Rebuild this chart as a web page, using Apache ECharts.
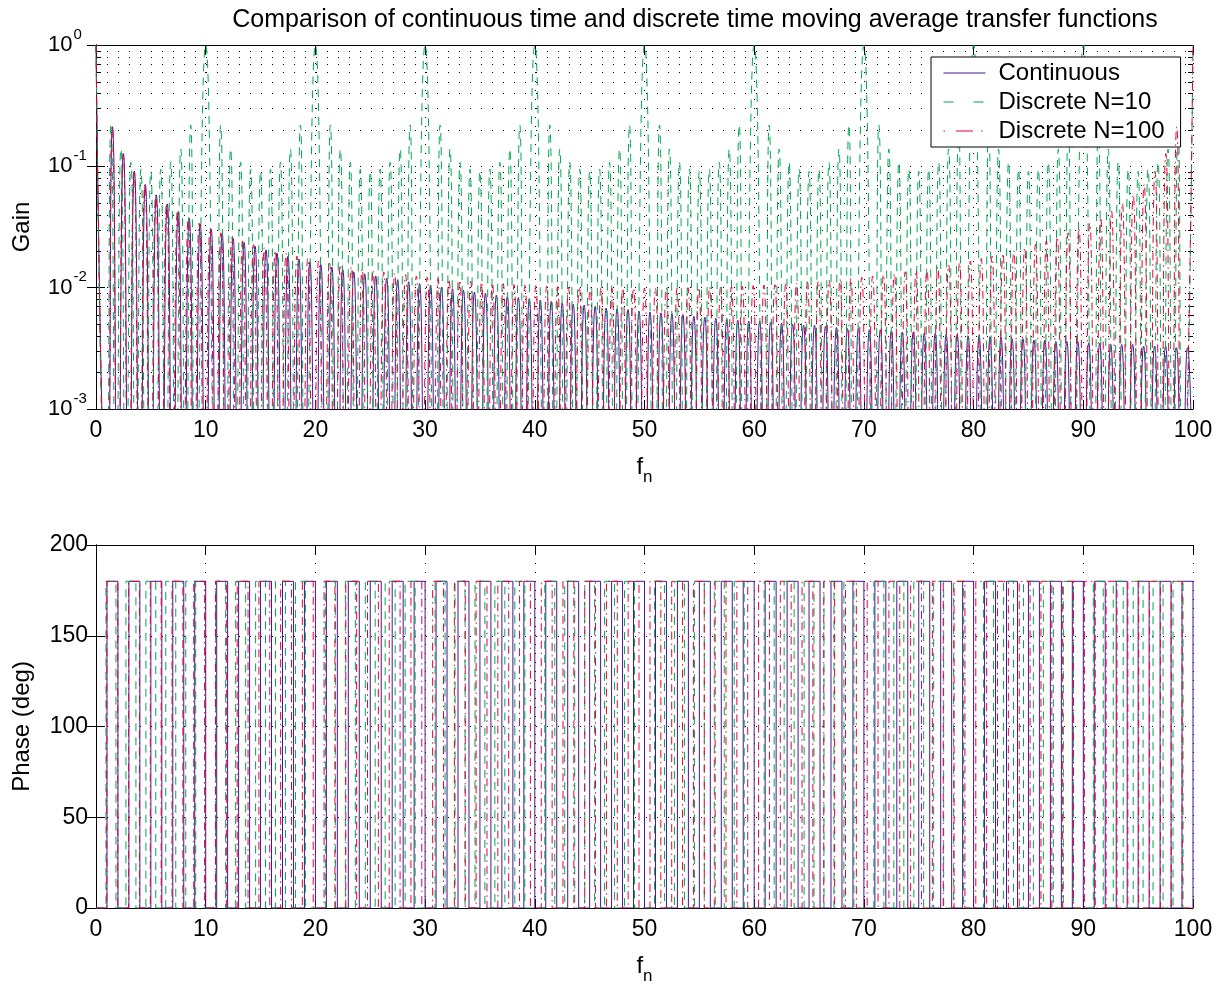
<!DOCTYPE html>
<html>
<head>
<meta charset="utf-8">
<title>Moving average transfer functions</title>
<script src="https://cdn.jsdelivr.net/npm/echarts@6/dist/echarts.min.js"></script>
<style>
  html, body { margin: 0; padding: 0; background: #fff; }
  #chart { width: 1229px; height: 986px; }
</style>
</head>
<body>
<div id="chart"></div>
<script>
'use strict';

// ---- data ----
const X_TICKS = [0, 10, 20, 30, 40, 50, 60, 70, 80, 90, 100];
const GAIN_TICKS = [0.001, 0.01, 0.1, 1];
const GAIN_MINOR = [0.002, 0.003, 0.004, 0.005, 0.006, 0.007, 0.008, 0.009,
    0.02, 0.03, 0.04, 0.05, 0.06, 0.07, 0.08, 0.09,
    0.2, 0.3, 0.4, 0.5, 0.6, 0.7, 0.8, 0.9];
const PHASE_TICKS = [0, 50, 100, 150, 200];
const PHASE_LEVELS = [0, 180];
const SERIES_NAMES = ['Continuous', 'Discrete N=10', 'Discrete N=100'];

// gain drops to zero here (drawn below the 10^-3 floor)
const ZERO_GAIN = 1e-4;

// Continuous: frequencies where the gain hits zero, and the top of each lobe
const CONT_ZEROS = [1, 2, 3, 4, 5, 6, 7, 8, 9, 10, 11, 12, 13, 14, 15, 16, 17, 18, 19, 20,
    21, 22, 23, 24, 25, 26, 27, 28, 29, 30, 31, 32, 33, 34, 35, 36, 37, 38, 39, 40,
    41, 42, 43, 44, 45, 46, 47, 48, 49, 50, 51, 52, 53, 54, 55, 56, 57, 58, 59, 60,
    61, 62, 63, 64, 65, 66, 67, 68, 69, 70, 71, 72, 73, 74, 75, 76, 77, 78, 79, 80,
    81, 82, 83, 84, 85, 86, 87, 88, 89, 90, 91, 92, 93, 94, 95, 96, 97, 98, 99, 100];
const CONT_PEAKS = [1, 0.212, 0.127, 0.0909, 0.0707, 0.0579, 0.0490, 0.0424, 0.0374, 0.0335,
    0.0303, 0.0277, 0.0255, 0.0236, 0.0220, 0.0205, 0.0193, 0.0182, 0.0172, 0.0163,
    0.0155, 0.0148, 0.0141, 0.0135, 0.0130, 0.0125, 0.0120, 0.0116, 0.0112, 0.0108,
    0.0105, 0.0101, 0.0098, 0.0095, 0.0092, 0.0090, 0.0087, 0.0085, 0.0083, 0.0081,
    0.0079, 0.0077, 0.0075, 0.0073, 0.0072, 0.0070, 0.0068, 0.0067, 0.0066, 0.0064,
    0.0063, 0.0062, 0.0061, 0.0060, 0.0058, 0.0057, 0.0056, 0.0055, 0.0054, 0.0053,
    0.0053, 0.0052, 0.0051, 0.0050, 0.0049, 0.0049, 0.0048, 0.0047, 0.0046, 0.0046,
    0.0045, 0.0045, 0.0044, 0.0043, 0.0043, 0.0042, 0.0042, 0.0041, 0.0041, 0.0040,
    0.0040, 0.0039, 0.0039, 0.0038, 0.0038, 0.0037, 0.0037, 0.0036, 0.0036, 0.0036,
    0.0035, 0.0035, 0.0034, 0.0034, 0.0034, 0.0033, 0.0033, 0.0033, 0.0032, 0.0032];

// Discrete N=10
const N10_ZEROS = [0.91, 1.82, 2.73, 3.64, 4.55, 5.45, 6.36, 7.27, 8.18, 9.09,
    10.91, 11.82, 12.73, 13.64, 14.55, 15.45, 16.36, 17.27, 18.18, 19.09,
    20.91, 21.82, 22.73, 23.64, 24.55, 25.45, 26.36, 27.27, 28.18, 29.09,
    30.91, 31.82, 32.73, 33.64, 34.55, 35.45, 36.36, 37.27, 38.18, 39.09,
    40.91, 41.82, 42.73, 43.64, 44.55, 45.45, 46.36, 47.27, 48.18, 49.09,
    50.91, 51.82, 52.73, 53.64, 54.55, 55.45, 56.36, 57.27, 58.18, 59.09,
    60.91, 61.82, 62.73, 63.64, 64.55, 65.45, 66.36, 67.27, 68.18, 69.09,
    70.91, 71.82, 72.73, 73.64, 74.55, 75.45, 76.36, 77.27, 78.18, 79.09,
    80.91, 81.82, 82.73, 83.64, 84.55, 85.45, 86.36, 87.27, 88.18, 89.09,
    90.91, 91.82, 92.73, 93.64, 94.55, 95.45, 96.36, 97.27, 98.18, 99.09];
const N10_PEAKS = [1,
    0.219, 0.139, 0.108, 0.0947, 0.0909, 0.0947, 0.108, 0.139, 0.219, 1,
    0.219, 0.139, 0.108, 0.0947, 0.0909, 0.0947, 0.108, 0.139, 0.219, 1,
    0.219, 0.139, 0.108, 0.0947, 0.0909, 0.0947, 0.108, 0.139, 0.219, 1,
    0.219, 0.139, 0.108, 0.0947, 0.0909, 0.0947, 0.108, 0.139, 0.219, 1,
    0.219, 0.139, 0.108, 0.0947, 0.0909, 0.0947, 0.108, 0.139, 0.219, 1,
    0.219, 0.139, 0.108, 0.0947, 0.0909, 0.0947, 0.108, 0.139, 0.219, 1,
    0.219, 0.139, 0.108, 0.0947, 0.0909, 0.0947, 0.108, 0.139, 0.219, 1,
    0.219, 0.139, 0.108, 0.0947, 0.0909, 0.0947, 0.108, 0.139, 0.219, 1,
    0.219, 0.139, 0.108, 0.0947, 0.0909, 0.0947, 0.108, 0.139, 0.219, 1,
    0.219, 0.139, 0.108, 0.0947, 0.0909, 0.0947, 0.108, 0.139, 0.219, 1];

// Discrete N=100
const N100_ZEROS = [0.99, 1.98, 2.97, 3.96, 4.95, 5.94, 6.93, 7.92, 8.91, 9.90,
    10.89, 11.88, 12.87, 13.86, 14.85, 15.84, 16.83, 17.82, 18.81, 19.80,
    20.79, 21.78, 22.77, 23.76, 24.75, 25.74, 26.73, 27.72, 28.71, 29.70,
    30.69, 31.68, 32.67, 33.66, 34.65, 35.64, 36.63, 37.62, 38.61, 39.60,
    40.59, 41.58, 42.57, 43.56, 44.55, 45.54, 46.53, 47.52, 48.51, 49.50,
    50.50, 51.49, 52.48, 53.47, 54.46, 55.45, 56.44, 57.43, 58.42, 59.41,
    60.40, 61.39, 62.38, 63.37, 64.36, 65.35, 66.34, 67.33, 68.32, 69.31,
    70.30, 71.29, 72.28, 73.27, 74.26, 75.25, 76.24, 77.23, 78.22, 79.21,
    80.20, 81.19, 82.18, 83.17, 84.16, 85.15, 86.14, 87.13, 88.12, 89.11,
    90.10, 91.09, 92.08, 93.07, 94.06, 95.05, 96.04, 97.03, 98.02, 99.01];
const N100_PEAKS = [1, 0.212, 0.1275, 0.0911, 0.0710, 0.0582, 0.0493, 0.0428, 0.0379, 0.0340,
    0.0309, 0.0283, 0.0261, 0.0243, 0.0227, 0.0213, 0.0202, 0.0191, 0.0182, 0.0174,
    0.0166, 0.0160, 0.0154, 0.0148, 0.0143, 0.0139, 0.0135, 0.0131, 0.0128, 0.0125,
    0.0122, 0.0119, 0.0117, 0.0115, 0.0113, 0.0111, 0.0109, 0.0108, 0.0106, 0.0105,
    0.0104, 0.0103, 0.0102, 0.0101, 0.0101, 0.0100, 0.0100, 0.0099, 0.0099, 0.0099,
    0.0099, 0.0099, 0.0099, 0.0099, 0.0100, 0.0100, 0.0101, 0.0101, 0.0102, 0.0103,
    0.0104, 0.0105, 0.0106, 0.0108, 0.0109, 0.0111, 0.0113, 0.0115, 0.0117, 0.0119,
    0.0122, 0.0125, 0.0128, 0.0131, 0.0135, 0.0139, 0.0143, 0.0148, 0.0154, 0.0160,
    0.0166, 0.0174, 0.0182, 0.0191, 0.0202, 0.0213, 0.0227, 0.0243, 0.0261, 0.0283,
    0.0309, 0.0340, 0.0379, 0.0428, 0.0493, 0.0582, 0.0710, 0.0911, 0.1275, 0.212, 1];

const COLORS = ['#47168f', '#00a651', '#e6003a'];
const X_MAX = 100;

// ---- build the polylines from the arrays ----
// lobe tops sit half way between zeros, except the ones touching the edges
function gainLine(zeros, peaks) {
    let pts = [[0, peaks[0]]];
    for (let i = 0; i < zeros.length; i++) {
        pts.push([zeros[i], ZERO_GAIN]);
        let p = peaks[i + 1];
        if (p === undefined || zeros[i] >= X_MAX) continue;
        let nx = i + 1 < zeros.length ? (zeros[i] + zeros[i + 1]) / 2 : X_MAX;
        pts.push([nx, p]);
    }
    return pts;
}

// phase flips between the two levels at every zero of the gain
function phaseLine(zeros) {
    let lvl = 0;
    let pts = [[0, PHASE_LEVELS[lvl]]];
    zeros.forEach(function (z) {
        pts.push([z, PHASE_LEVELS[lvl]]);
        lvl = 1 - lvl;
        pts.push([z, PHASE_LEVELS[lvl]]);
    });
    if (zeros[zeros.length - 1] < X_MAX) pts.push([X_MAX, PHASE_LEVELS[lvl]]);
    return pts;
}

const FONT = '"Liberation Sans", Arial, Helvetica, sans-serif';
const TICK_FONT = 23;
const LINE_TYPES = ['solid', [8, 6], [8, 4, 1.5, 4]];
// the legend keys show a longer repeat of the same dashes
const LEGEND_TYPES = ['solid', [10, 20], [1.5, 11, 17, 8]];
const allZeros = [CONT_ZEROS, N10_ZEROS, N100_ZEROS];
const allPeaks = [CONT_PEAKS, N10_PEAKS, N100_PEAKS];

let chart = echarts.init(document.getElementById('chart'));

function xAxisFor(grid, pos, labels) {
    return {
        type: 'value', gridIndex: grid, position: pos, min: 0, max: X_MAX, interval: 10,
        axisLine: {show: true, onZero: false, lineStyle: {color: '#000', width: 1}},
        axisTick: {show: true, inside: true, length: 9, lineStyle: {color: '#000'}},
        axisLabel: {show: labels, color: '#000', fontSize: TICK_FONT, fontFamily: FONT, margin: 10},
        splitLine: {show: labels, lineStyle: {color: '#000', width: 1, type: [1, 8]}},
        name: labels ? '{f|f}{n|n}' : '',
        nameLocation: 'middle',
        nameGap: 40,
        nameTextStyle: {
            color: '#000', fontFamily: FONT,
            rich: {
                f: {fontSize: 24, fontFamily: FONT, color: '#000'},
                n: {fontSize: 17, fontFamily: FONT, color: '#000', padding: [20, 0, 0, 0], verticalAlign: 'bottom'}
            }
        }
    };
}

function minorGrid() {
    return {
        type: 'custom', xAxisIndex: 0, yAxisIndex: 0, silent: true, z: 1,
        data: GAIN_MINOR.map(function (v) { return [0, v]; }),
        encode: {x: 0, y: 1},
        renderItem: function (params, api) {
            let a = api.coord([0, api.value(1)]);
            let b = api.coord([X_MAX, api.value(1)]);
            let y = Math.round(a[1]) + 0.5;
            return {
                type: 'group', children: [
                    {type: 'line', shape: {x1: a[0], y1: y, x2: b[0], y2: y},
                        style: {stroke: '#000', lineWidth: 1, lineDash: [1, 10]}},
                    {type: 'line', shape: {x1: a[0], y1: y, x2: a[0] + 5, y2: y},
                        style: {stroke: '#000', lineWidth: 1}},
                    {type: 'line', shape: {x1: b[0] - 5, y1: y, x2: b[0], y2: y},
                        style: {stroke: '#000', lineWidth: 1}}
                ]
            };
        }
    };
}

let series = [minorGrid()];
SERIES_NAMES.forEach(function (name, i) {
    series.push({
        name: name, type: 'line', xAxisIndex: 0, yAxisIndex: 0,
        data: gainLine(allZeros[i], allPeaks[i]),
        showSymbol: false, symbol: 'none', smooth: 0.6, z: 2 + i,
        lineStyle: {color: COLORS[i], width: 1, type: LINE_TYPES[i]},
        itemStyle: {color: COLORS[i]}
    });
});
SERIES_NAMES.forEach(function (name, i) {
    series.push({
        name: name, type: 'line', xAxisIndex: 2, yAxisIndex: 2,
        data: phaseLine(allZeros[i]),
        showSymbol: false, symbol: 'none', z: 2 + i,
        lineStyle: {color: COLORS[i], width: 1, type: LINE_TYPES[i]},
        itemStyle: {color: COLORS[i]}
    });
});

let option = {
    animation: false,
    backgroundColor: '#fff',
    textStyle: {fontFamily: FONT},
    title: {
        text: 'Comparison of continuous time and discrete time moving average transfer functions',
        left: 690, top: 3, textAlign: 'center',
        textStyle: {fontSize: 25, fontWeight: 'normal', color: '#000', fontFamily: FONT}
    },
    legend: {
        data: SERIES_NAMES.map(function (name, i) {
            return {name: name, lineStyle: {color: COLORS[i], width: 1, type: LEGEND_TYPES[i]}};
        }),
        orient: 'vertical', left: 931, top: 57,
        itemWidth: 42, itemHeight: 14, itemGap: 5,
        padding: [4, 16, 4, 12],
        borderColor: '#000', borderWidth: 1, backgroundColor: '#fff',
        itemStyle: {opacity: 0},
        textStyle: {fontSize: 24, color: '#000', fontFamily: FONT, padding: [0, 0, 0, 8]}
    },
    grid: [
        {left: 96, top: 45, width: 1097, height: 364},
        {left: 96, top: 545, width: 1097, height: 364}
    ],
    xAxis: [
        xAxisFor(0, 'bottom', true),
        xAxisFor(0, 'top', false),
        xAxisFor(1, 'bottom', true),
        xAxisFor(1, 'top', false)
    ],
    yAxis: [
        {
            type: 'log', logBase: 10, gridIndex: 0, position: 'left', min: GAIN_TICKS[0], max: GAIN_TICKS[GAIN_TICKS.length - 1],
            axisLine: {show: true, lineStyle: {color: '#000'}},
            axisTick: {show: true, inside: true, length: 9, lineStyle: {color: '#000'}},
            axisLabel: {
                color: '#000', margin: 48, align: 'left',
                formatter: function (v) {
                    return '{b|10}{s|' + Math.round(Math.log10(v)) + '}';
                },
                rich: {
                    b: {fontSize: 22, fontFamily: FONT, color: '#000'},
                    s: {fontSize: 15, fontFamily: FONT, color: '#000', padding: [0, 0, 21, 1]}
                }
            },
            splitLine: {show: true, lineStyle: {color: '#000', width: 1, type: [1, 10]}},
            name: 'Gain', nameLocation: 'middle', nameGap: 62, nameRotate: 90,
            nameTextStyle: {fontSize: 24, color: '#000', fontFamily: FONT}
        },
        {
            type: 'log', logBase: 10, gridIndex: 0, position: 'right', min: 0.001, max: 1,
            axisLine: {show: true, lineStyle: {color: '#000'}},
            axisTick: {show: true, inside: true, length: 9, lineStyle: {color: '#000'}},
            axisLabel: {show: false}, splitLine: {show: false}
        },
        {
            type: 'value', gridIndex: 1, position: 'left', min: PHASE_TICKS[0], max: PHASE_TICKS[PHASE_TICKS.length - 1], interval: 50,
            axisLine: {show: true, lineStyle: {color: '#000'}},
            axisTick: {show: true, inside: true, length: 9, lineStyle: {color: '#000'}},
            axisLabel: {color: '#000', fontSize: TICK_FONT, fontFamily: FONT, margin: 8},
            splitLine: {show: true, lineStyle: {color: '#000', width: 1, type: [1, 10]}},
            name: 'Phase (deg)', nameLocation: 'middle', nameGap: 62, nameRotate: 90,
            nameTextStyle: {fontSize: 24, color: '#000', fontFamily: FONT}
        },
        {
            type: 'value', gridIndex: 1, position: 'right', min: 0, max: 200, interval: 50,
            axisLine: {show: true, lineStyle: {color: '#000'}},
            axisTick: {show: true, inside: true, length: 9, lineStyle: {color: '#000'}},
            axisLabel: {show: false}, splitLine: {show: false}
        }
    ],
    series: series
};

chart.setOption(option);
</script>
</body>
</html>
